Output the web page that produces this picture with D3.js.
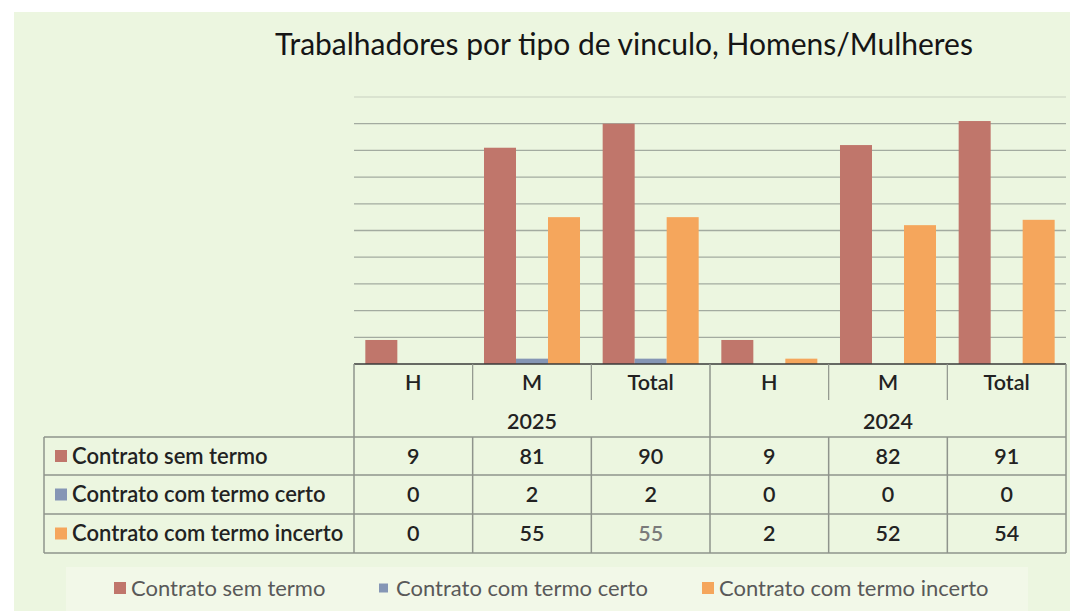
<!DOCTYPE html>
<html>
<head>
<meta charset="utf-8">
<script src="https://cdn.jsdelivr.net/npm/d3@7"></script>
<style>
   body { margin: 0; background: #ffffff; }
   svg text { font-family: Lato, "Noto Sans", sans-serif; }
</style>
</head>
<body>
<div id="chart"></div>
<script>
// data
var years        = ["2025", "2024"]
var groups       = ["H", "M", "Total"]
var seriesNames  = ["Contrato sem termo", "Contrato com termo certo", "Contrato com termo incerto"]
var semTermo     = [9, 81, 90, 9, 82, 91]
var termoCerto   = [0, 2, 2, 0, 0, 0]
var termoIncerto = [0, 55, 55, 2, 52, 54]
var yTicks       = [0, 10, 20, 30, 40, 50, 60, 70, 80, 90, 100]

var seriesValues = [semTermo, termoCerto, termoIncerto]
var colors = ["#c0766b", "#8596b5", "#f5a65c"]

// global sizes
var svgWidth  = 1070
var svgHeight = 611
var plotLeft  = 354
var plotRight = 1066
var baseY     = 364
var topY      = 97
var tableLeft = 44

// one key per category (year + sub group)
var cats = []
years.forEach(function(y){
   groups.forEach(function(g){ cats.push(y + "|" + g) })
})

var svg = d3.select("#chart")
.append("svg")
.attr("width", svgWidth)
.attr("height", svgHeight)

// chart background
svg.append("rect")
.attr("x", 14).attr("y", 12)
.attr("width", svgWidth - 14).attr("height", svgHeight - 12)
.attr("fill", "#ecf6e0")

// legend strip is a bit lighter in the scan
svg.append("rect")
.attr("x", 66).attr("y", 567)
.attr("width", 962).attr("height", 44)
.attr("fill", "#f2f8e8")

// title
svg.append("text")
.attr("x", 624).attr("y", 55)
.attr("text-anchor", "middle")
.attr("font-size", 30)
.attr("fill", "#151515")
.text("Trabalhadores por tipo de vinculo, Homens/Mulheres")

// scales
var x = d3.scaleBand()
.domain(cats)
.range([plotLeft, plotRight])
.padding(0)

var xInner = d3.scaleBand()
.domain(d3.range(seriesNames.length))
.range([0, x.bandwidth()])
.paddingInner(0)
.paddingOuter(0.354)

var y = d3.scaleLinear()
.domain([0, 100])
.range([baseY, topY])

// gridlines
svg.append("g")
.selectAll("line")
.data(yTicks.filter(function(d){ return d > 0 }))
.enter()
.append("line")
.attr("x1", plotLeft).attr("x2", plotRight)
.attr("y1", function(d){ return y(d) })
.attr("y2", function(d){ return y(d) })
.attr("stroke", function(d){ return d == 100 ? "#d4dccb" : "#a3aba0" })
.attr("stroke-width", 1.3)

// bars
seriesValues.forEach(function(vals, si){
   svg.append("g")
   .selectAll("rect")
   .data(vals)
   .enter()
   .append("rect")
   .attr("x", function(d, i){ return x(cats[i]) + xInner(si) })
   .attr("y", function(d){ return y(d) })
   .attr("width", xInner.bandwidth())
   .attr("height", function(d){ return y(0) - y(d) })
   .attr("fill", colors[si])
})

// axis line
svg.append("line")
.attr("x1", plotLeft).attr("x2", plotRight)
.attr("y1", baseY).attr("y2", baseY)
.attr("stroke", "#3a3a3a")
.attr("stroke-width", 1.5)

// ---- data table ----
var headRow1   = 382
var headRow2   = 421
var headBottom = 437
var rowLines   = [437, 475, 514, 553]
var lineColor  = "#8f948c"
var fontTable  = 21.5

var table = svg.append("g")

// header: sub group labels
table.selectAll("text.sub")
.data(cats)
.enter()
.append("text")
.attr("class", "sub")
.attr("x", function(d){ return x(d) + x.bandwidth() / 2 })
.attr("y", headRow1)
.attr("dy", "0.35em")
.attr("text-anchor", "middle")
.attr("font-size", fontTable)
.attr("font-weight", 600)
.attr("fill", "#222")
.text(function(d){ return d.split("|")[1] })

// header: year labels
table.selectAll("text.year")
.data(years)
.enter()
.append("text")
.attr("class", "year")
.attr("x", function(d){ return x(d + "|M") + x.bandwidth() / 2 })
.attr("y", headRow2)
.attr("dy", "0.35em")
.attr("text-anchor", "middle")
.attr("font-size", fontTable)
.attr("font-weight", 600)
.attr("fill", "#222")
.text(function(d){ return d })

// header: short dividers inside a year, full ones between years
cats.forEach(function(c, i){
   if (i == 0) return
   var full = groups.indexOf(c.split("|")[1]) == 0
   table.append("line")
   .attr("x1", x(c)).attr("x2", x(c))
   .attr("y1", baseY).attr("y2", full ? headBottom : 400)
   .attr("stroke", lineColor)
   .attr("stroke-width", full ? 1.5 : 1.2)
})
;[plotLeft, plotRight].forEach(function(px){
   table.append("line")
   .attr("x1", px).attr("x2", px)
   .attr("y1", baseY).attr("y2", rowLines[rowLines.length - 1])
   .attr("stroke", lineColor)
   .attr("stroke-width", 1.5)
})

// horizontal rules of the body
rowLines.forEach(function(ry){
   table.append("line")
   .attr("x1", tableLeft).attr("x2", plotRight)
   .attr("y1", ry).attr("y2", ry)
   .attr("stroke", lineColor)
   .attr("stroke-width", 1.5)
})
// left edge and body verticals
table.append("line")
.attr("x1", tableLeft).attr("x2", tableLeft)
.attr("y1", rowLines[0]).attr("y2", rowLines[rowLines.length - 1])
.attr("stroke", lineColor).attr("stroke-width", 1.5)
cats.forEach(function(c, i){
   if (i == 0) return
   table.append("line")
   .attr("x1", x(c)).attr("x2", x(c))
   .attr("y1", rowLines[0]).attr("y2", rowLines[rowLines.length - 1])
   .attr("stroke", lineColor).attr("stroke-width", 1.5)
})

// body rows
seriesNames.forEach(function(name, si){
   var cy = (rowLines[si] + rowLines[si + 1]) / 2
   table.append("rect")
   .attr("x", 55).attr("y", cy - 6)
   .attr("width", 12).attr("height", 12)
   .attr("fill", colors[si])
   table.append("text")
   .attr("x", 72).attr("y", cy)
   .attr("dy", "0.35em")
   .attr("font-size", 22)
   .attr("font-weight", 600)
   .attr("fill", "#222")
   .text(name)
   table.selectAll("text.v" + si)
   .data(seriesValues[si])
   .enter()
   .append("text")
   .attr("class", "v" + si)
   .attr("x", function(d, i){ return x(cats[i]) + x.bandwidth() / 2 })
   .attr("y", cy)
   .attr("dy", "0.35em")
   .attr("text-anchor", "middle")
   .attr("font-size", fontTable)
   .attr("font-weight", 600)
   .attr("fill", function(d, i){ return (si == 2 && i == 2) ? "#7a7a7a" : "#222" })
   .text(function(d){ return d })
})

// ---- legend ----
var legendX = [114, 379, 702]
var legendY = 588
var legend = svg.append("g")
seriesNames.forEach(function(name, si){
   var s = si == 1 ? 9 : 12
   legend.append("rect")
   .attr("x", legendX[si]).attr("y", legendY - s / 2)
   .attr("width", s).attr("height", s)
   .attr("fill", colors[si])
   legend.append("text")
   .attr("x", legendX[si] + 17).attr("y", legendY)
   .attr("dy", "0.35em")
   .attr("font-size", 22)
   .attr("fill", "#595959")
   .text(name)
})
</script>
</body>
</html>
